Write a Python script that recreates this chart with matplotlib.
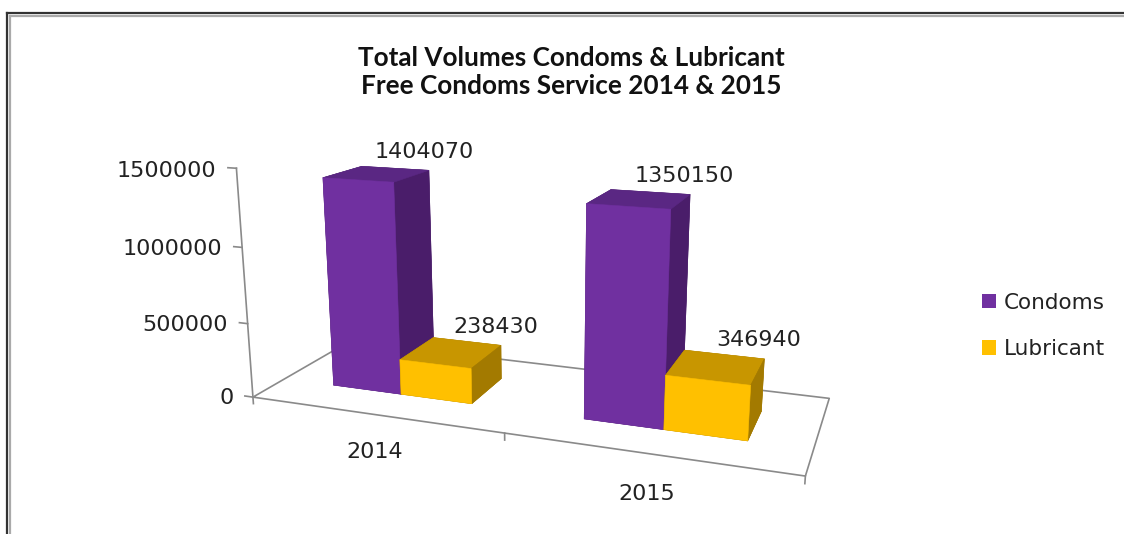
import matplotlib
matplotlib.use("Agg")
import matplotlib.pyplot as plt
from matplotlib.lines import Line2D
from matplotlib.patches import Patch

years = ["2014", "2015"]
series = ["Condoms", "Lubricant"]
condoms = [1404070, 1350150]
lubricant = [238430, 346940]
y_ticks = [0, 500000, 1000000, 1500000]
title = "Total Volumes Condoms & Lubricant\nFree Condoms Service 2014 & 2015"

# face colours per series (front, top, right side)
front = ["#7030A0", "#FFC000"]
top = ["#5A2783", "#C89600"]
side = ["#4A1D6A", "#A37A00"]
grid = "#8A8A8A"

W, H, DPI = 1124, 534, 100
plt.rcParams["font.family"] = "DejaVu Sans"
fig = plt.figure(figsize=(W / DPI, H / DPI), dpi=DPI)


def px(x, y):
    """pixel (from top-left) -> figure fraction"""
    return x / W, 1 - y / H


# 3d axes, square, centred on the view point
S, cx, cy = 700, 541, 286
ax = fig.add_axes([(cx - 0.514 * S) / W, 1 - (cy + 0.514 * S) / H, S / W, S / H],
                  projection="3d", computed_zorder=False)
ax.patch.set_alpha(0)

n = len(years)
gap = 1.5                      # excel gap width / gap depth
bw = 1 / (2 + gap)
depth = bw * (1 + gap)
zmax = y_ticks[-1]
ax.set_xlim(0, n)
ax.set_ylim(0, depth)
ax.set_zlim(0, zmax)
ax.set_box_aspect((n, depth, 0.85), zoom=0.885)
ax.view_init(elev=15, azim=-70)
ax.set_proj_type("persp", focal_length=0.29)
ax.set_axis_off()

# floor outline + value axis
ax.plot([0, n, n, 0, 0], [0, 0, depth, depth, 0], [0] * 5, color=grid, lw=1.2, zorder=1)
ax.plot([0, 0], [0, 0], [0, zmax], color=grid, lw=1.2, zorder=1)
for t in y_ticks:
    ax.plot([-0.035, 0], [0, 0], [t, t], color=grid, lw=1.2, zorder=1)
    ax.text(-0.085, 0, t - 0.015 * zmax, f"{t}", ha="right", va="center", fontsize=16,
            color="#222222")
for i in range(n + 1):
    ax.plot([i, i], [0, 0], [0, -0.03 * zmax], color=grid, lw=1.2, zorder=1)
for i, yr in enumerate(years):
    ax.text(i + 0.5, 0, -0.17 * zmax, yr, ha="center", va="center", fontsize=16, color="#222222")

# bars, drawn back to front
z = 2
for i in range(n):
    for j, vals in enumerate([condoms, lubricant]):
        x0 = i + 0.75 * bw + j * bw
        y0 = 0.75 * bw
        cols = [side[j], top[j], front[j], side[j], side[j], side[j]]
        ax.bar3d([x0], [y0], [0], bw, bw, vals[i], color=cols, edgecolor=cols,
                 linewidth=0.4, shade=False, zorder=z)
        ax.text(x0 + 0.93 * bw, y0 + bw, vals[i] + 0.035 * zmax, f"{vals[i]}", ha="center",
                va="bottom", fontsize=16, color="#222222", zorder=10)
        z += 1

fig.text(*px(571, 72), title, ha="center", va="center", fontsize=18.8, fontweight="bold",
         family=["Lato", "DejaVu Sans"], linespacing=1.18, color="#111111")

fig.legend(handles=[Patch(facecolor=c, edgecolor="none") for c in front], labels=series,
           loc="center left", bbox_to_anchor=px(982, 326), frameon=False, fontsize=15.5,
           handlelength=0.65, handleheight=0.65, handletextpad=0.35, labelspacing=1.22,
           borderpad=0, borderaxespad=0, labelcolor="#222222")

# chart border (only top / left edges are inside the picture)
fig.add_artist(Line2D([7 / W, 1], [1 - 13 / H] * 2, color="#333333", lw=1.6))
fig.add_artist(Line2D([7 / W] * 2, [0, 1 - 13 / H], color="#333333", lw=1.6))
fig.add_artist(Line2D([10 / W, 1], [1 - 16 / H] * 2, color="#AAAAAA", lw=1.6))
fig.add_artist(Line2D([10 / W] * 2, [0, 1 - 16 / H], color="#AAAAAA", lw=1.6))

fig.savefig("out.png", dpi=DPI)
